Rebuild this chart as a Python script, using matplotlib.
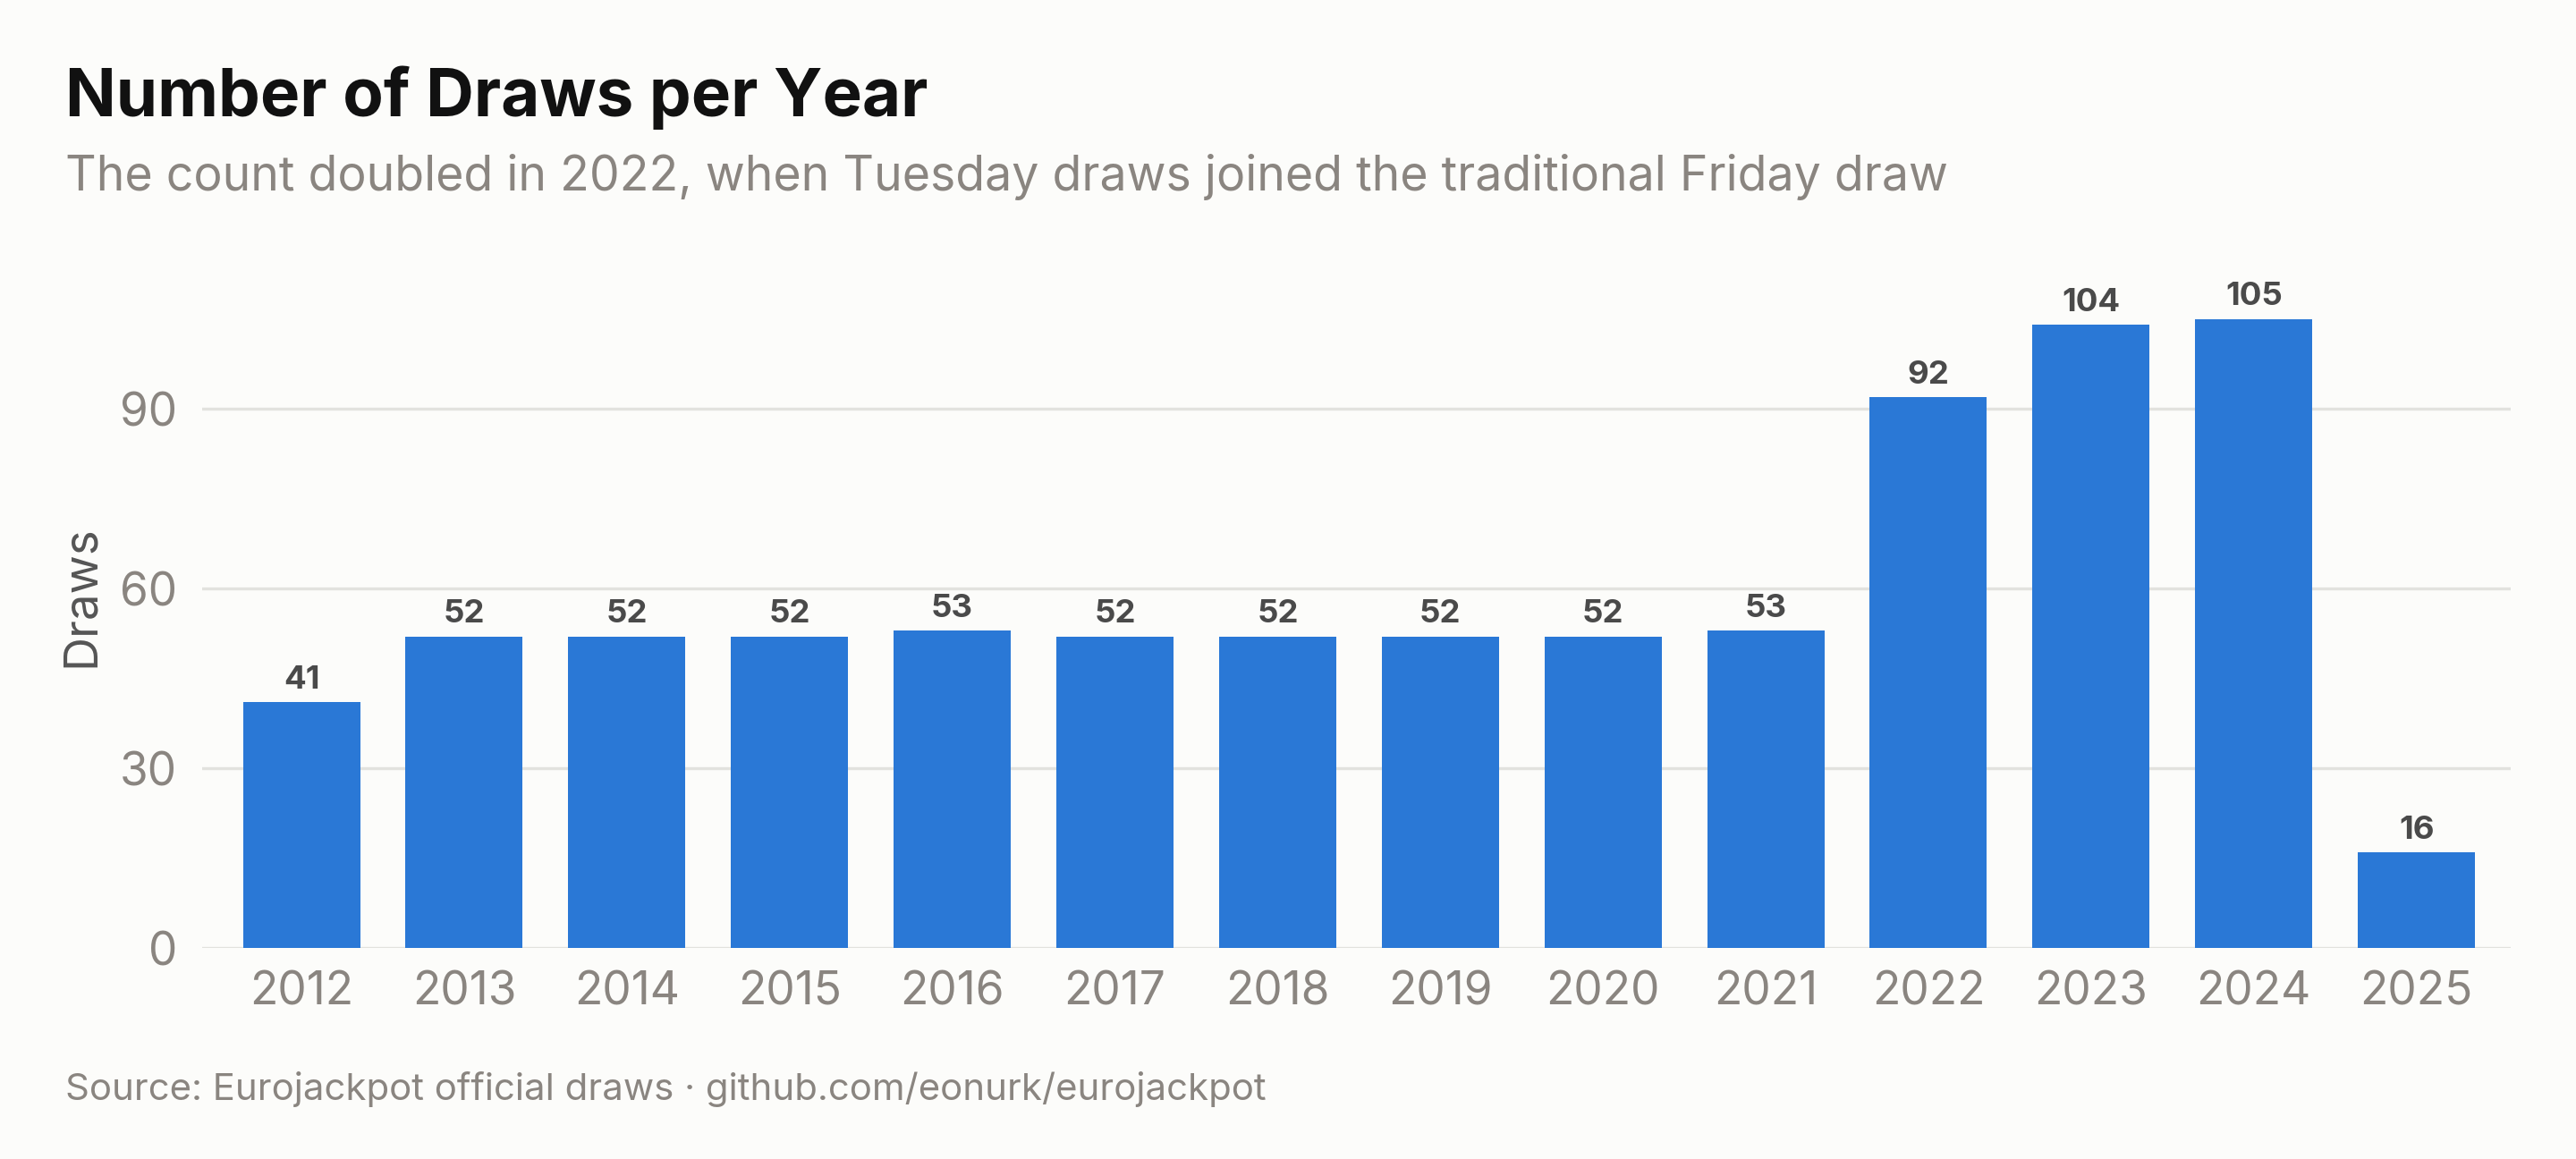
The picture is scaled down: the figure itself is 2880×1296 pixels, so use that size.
"""Bar chart of Eurojackpot draws per year."""

import matplotlib

matplotlib.use("Agg")
import matplotlib.pyplot as plt


years = ["2012", "2013", "2014", "2015", "2016", "2017", "2018",
         "2019", "2020", "2021", "2022", "2023", "2024", "2025"]
draws = [41, 52, 52, 52, 53, 52, 52, 52, 52, 53, 92, 104, 105, 16]
y_ticks = [0, 30, 60, 90]

TITLE = "Number of Draws per Year"
SUBTITLE = "The count doubled in 2022, when Tuesday draws joined the traditional Friday draw"
SOURCE = "Source: Eurojackpot official draws \u00b7 github.com/eonurk/eurojackpot"

BG = "#fcfcfa"
BAR = "#2a78d6"
GRID = "#e2e2de"
MUTED = "#8a8580"

plt.rcParams["font.family"] = ["Inter", "DejaVu Sans"]

fig = plt.figure(figsize=(14.4, 6.48), dpi=200, facecolor=BG)
ax = fig.add_axes([0.0785, 0.182, 0.8962, 0.597], facecolor=BG)

positions = list(range(len(years)))
bars = ax.bar(positions, draws, width=0.72, color=BAR, zorder=3)

for rect, value in zip(bars, draws):
    ax.annotate(
        str(value),
        xy=(rect.get_x() + rect.get_width() / 2, rect.get_height()),
        xytext=(0, 3),
        textcoords="offset points",
        ha="center",
        va="bottom",
        fontsize=13.2,
        fontweight="bold",
        color="#4a4a4a",
    )

ax.set_xlim(-0.61, len(years) - 1 + 0.58)
ax.set_ylim(0, 115.5)
ax.set_xticks(positions)
ax.set_xticklabels(years)
ax.set_yticks(y_ticks)
ax.tick_params(axis="both", length=0, labelsize=18.5, labelcolor=MUTED)
ax.tick_params(axis="x", pad=9)
ax.tick_params(axis="y", pad=10)
ax.set_ylabel("Draws", fontsize=19, color="#555555", va="center")
ax.yaxis.set_label_coords(-0.052, 0.508)

ax.grid(axis="y", color=GRID, linewidth=1.2, zorder=0)
for spine in ax.spines.values():
    spine.set_visible(False)

fig.text(0.0255, 0.9, TITLE, fontsize=26.8, fontweight="bold", color="#111111",
         va="baseline", ha="left")
fig.text(0.0255, 0.8355, SUBTITLE, fontsize=19.3, color=MUTED,
         va="baseline", ha="left")
fig.text(0.0255, 0.051, SOURCE, fontsize=15.1, color=MUTED,
         va="baseline", ha="left")

fig.savefig("out.png", dpi=200, facecolor=BG)
plt.close(fig)
